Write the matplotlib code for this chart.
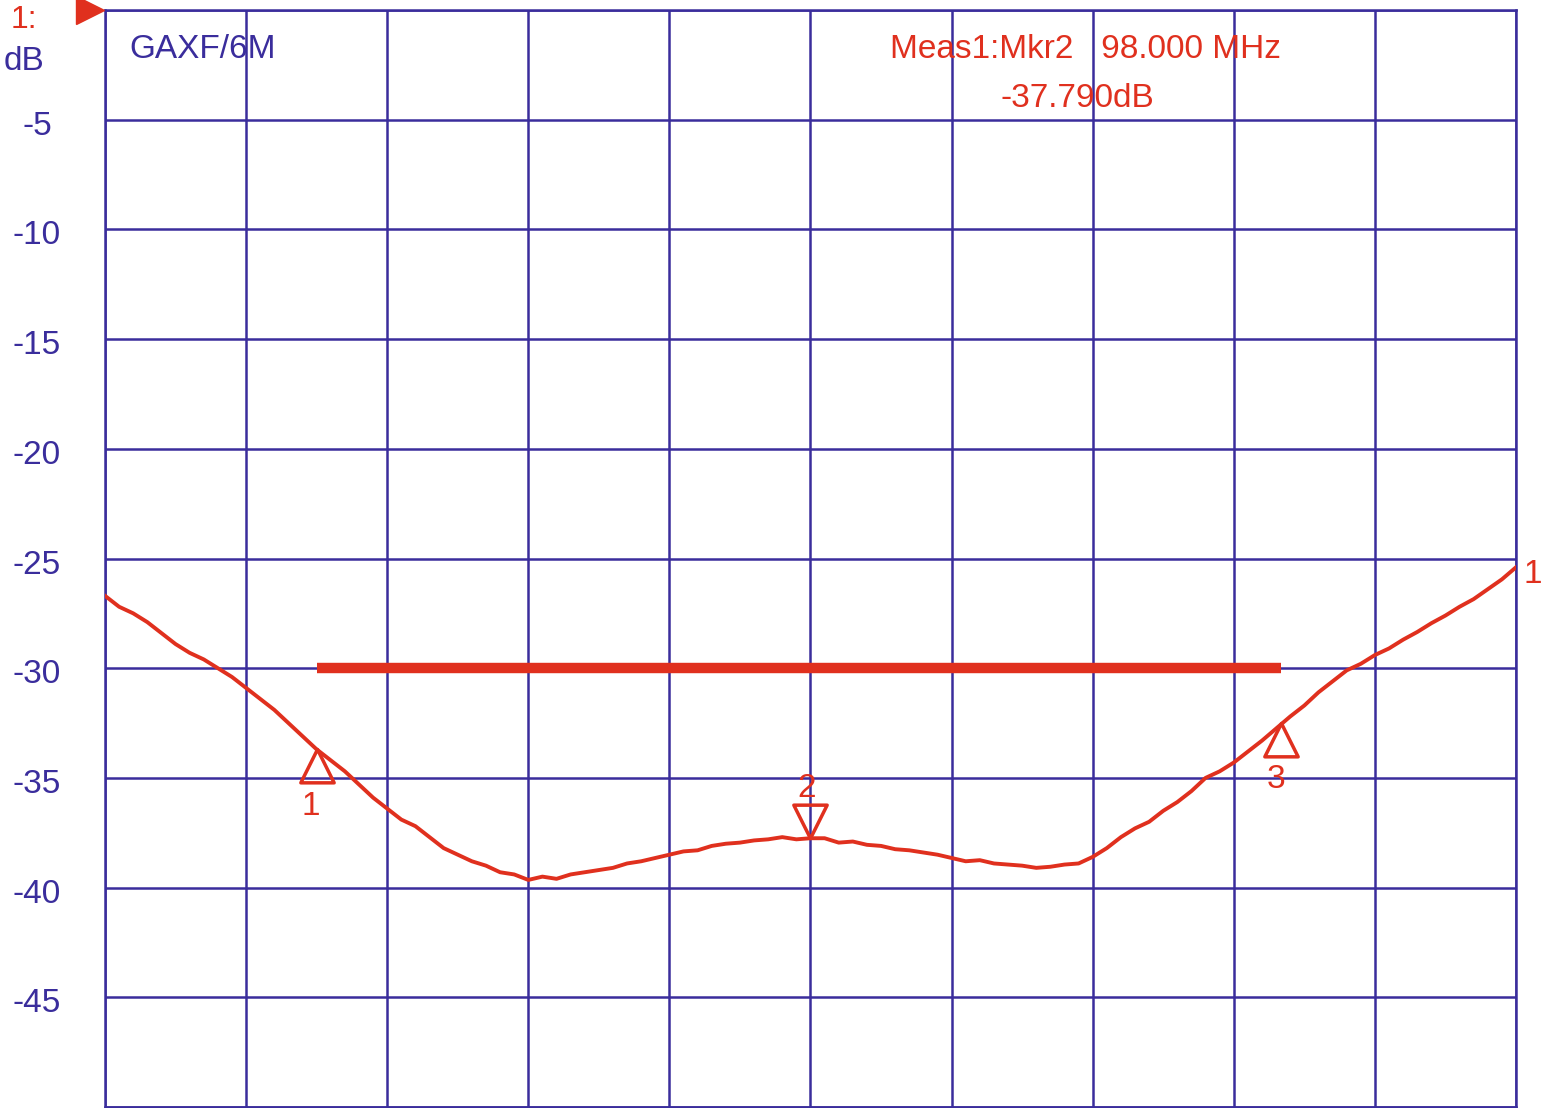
import numpy as np
import matplotlib
matplotlib.use("Agg")
import matplotlib.pyplot as plt
from matplotlib.path import Path
import matplotlib.transforms as mtransforms

# trace: frequency (MHz) vs S21 (dB)
freq_mhz = np.linspace(88.0, 108.0, 101)
trace_db = [
    -26.7, -27.2, -27.5, -27.9, -28.4, -28.9, -29.3, -29.6, -30.0, -30.4,
    -30.9, -31.4, -31.9, -32.5, -33.1, -33.7, -34.2, -34.7, -35.3, -35.9,
    -36.4, -36.9, -37.2, -37.7, -38.2, -38.5, -38.8, -39.0, -39.3, -39.4,
    -39.65, -39.5, -39.6, -39.4, -39.3, -39.2, -39.1, -38.9, -38.8, -38.65,
    -38.5, -38.35, -38.3, -38.1, -38.0, -37.95, -37.85, -37.8, -37.7, -37.8,
    -37.75, -37.75, -37.95, -37.9, -38.05, -38.1, -38.25, -38.3, -38.4, -38.5,
    -38.65, -38.8, -38.75, -38.9, -38.95, -39.0, -39.1, -39.05, -38.95, -38.9,
    -38.6, -38.2, -37.7, -37.3, -37.0, -36.5, -36.1, -35.6, -35.0, -34.7,
    -34.3, -33.8, -33.3, -32.75, -32.2, -31.7, -31.1, -30.6, -30.1, -29.8,
    -29.4, -29.1, -28.7, -28.35, -27.95, -27.6, -27.2, -26.85, -26.4, -25.95,
    -25.4,
]

# markers: (freq, level, label)
marker_freqs = [91.0, 98.0, 104.67]
marker_dbs = [-33.7, -37.75, -32.5]
marker_names = ["1", "2", "3"]

limit_freqs = [91.0, 104.67]
limit_db = -30.0

ytick_vals = [-5, -10, -15, -20, -25, -30, -35, -40, -45]

BLUE = "#3a2d9c"
RED = "#e0301e"

plt.rcParams["font.family"] = ["Liberation Sans", "DejaVu Sans"]

fig = plt.figure(figsize=(15.41, 11.08), dpi=100)
ax = fig.add_axes([105 / 1541, 1 - 1107 / 1108, 1411 / 1541, 1097 / 1108])
ax.set_xlim(88, 108)
ax.set_ylim(-50, 0)

# graticule
for xv in np.linspace(88, 108, 11):
    ax.axvline(xv, color=BLUE, lw=1.8, zorder=1)
for yv in np.arange(-50, 1, 5):
    ax.axhline(yv, color=BLUE, lw=1.8, zorder=1)
for sp in ax.spines.values():
    sp.set_color(BLUE)
    sp.set_linewidth(1.8)
ax.set_xticks([])
ax.set_yticks([])

# y labels centred left of the grid
ylab = mtransforms.blended_transform_factory(ax.transAxes, ax.transData)
for v in ytick_vals:
    ax.text(-0.0482, v - 0.3, str(v), transform=ylab, ha="center",
            va="center", fontsize=24, color=BLUE)
ax.text(-0.0575, -0.45, "1:", transform=ylab, ha="center", va="center",
        fontsize=23, color=RED)
ax.text(-0.0575, -2.35, "dB", transform=ylab, ha="center", va="center",
        fontsize=24, color=BLUE)
ax.plot([-0.0105], [0], transform=ylab, marker=">", ms=20, color=RED,
        clip_on=False, zorder=5)

# trace and limit line
ax.plot(freq_mhz, trace_db, color=RED, lw=2.8, zorder=3)
ax.plot(limit_freqs, [limit_db, limit_db], color=RED, lw=7.5,
        solid_capstyle="butt", zorder=3)

# marker triangles with apex on the trace
up_tri = Path([(0, 0), (-0.5, -1), (0.5, -1), (0, 0)],
              [Path.MOVETO, Path.LINETO, Path.LINETO, Path.CLOSEPOLY])
down_tri = Path([(0, 0), (-0.5, 1), (0.5, 1), (0, 0)],
                [Path.MOVETO, Path.LINETO, Path.LINETO, Path.CLOSEPOLY])
for f, d, name in zip(marker_freqs, marker_dbs, marker_names):
    if name == "2":
        ax.plot([f], [d], marker=down_tri, ms=48, mfc="none", mec=RED,
                mew=2.5, zorder=4)
        ax.annotate(name, (f, d), xytext=(-3, 36), textcoords="offset points",
                    ha="center", va="center", fontsize=24, color=RED)
    else:
        ax.plot([f], [d], marker=up_tri, ms=48, mfc="none", mec=RED,
                mew=2.5, zorder=4)
        ax.annotate(name, (f, d), xytext=(-4, -41), textcoords="offset points",
                    ha="center", va="center", fontsize=24, color=RED)

# annotations
ax.text(88.35, -1.8, "GAXF/6M", ha="left", va="center", fontsize=24,
        color=BLUE)
ax.text(99.13, -1.8, "Meas1:Mkr2   98.000 MHz", ha="left", va="center",
        fontsize=24, color=RED)
ax.text(100.69, -4.05, "-37.790dB", ha="left", va="center", fontsize=24,
        color=RED)
ax.text(108.1, -25.75, "1", ha="left", va="center", fontsize=24,
        color=RED, clip_on=False)

fig.savefig("out.png", dpi=100)
